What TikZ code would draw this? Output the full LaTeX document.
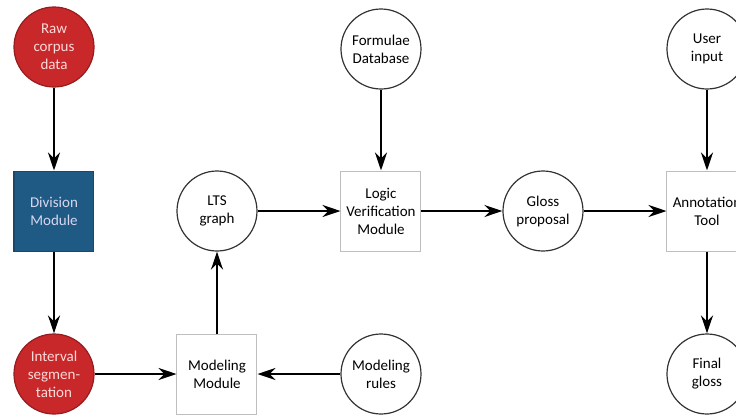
\documentclass[tikz,border=0pt]{standalone}
\usepackage{fontspec}
\setmainfont{Carlito}
\usetikzlibrary{arrows.meta}
\definecolor{corpusred}{RGB}{200,40,42}
\definecolor{corpusredline}{RGB}{150,28,30}
\definecolor{divblue}{RGB}{31,90,133}
\definecolor{boxgray}{RGB}{190,190,190}
\begin{document}
\begin{tikzpicture}[x=0.5pt,y=-0.5pt,
  font=\fontsize{7.5}{9}\selectfont,
  state/.style={circle,draw=black!80,line width=0.6pt,fill=white,minimum size=40pt,inner sep=0pt,align=center},
  source/.style={state,fill=corpusred,draw=corpusredline,text=red!15},
  module/.style={rectangle,draw=boxgray,line width=0.5pt,fill=white,minimum size=40pt,inner sep=1pt,align=center},
  divbox/.style={module,fill=divblue,draw=divblue!80!black,text=cyan!20!blue!15},
  flow/.style={-{Stealth[length=9pt,width=6pt,inset=3pt]},line width=1.1pt}]
  \useasboundingbox (0,0) rectangle (736,414);
  \node[source] (raw) at (54,47) {Raw\\corpus\\data};
  \node[divbox] (div) at (54,211) {Division\\Module};
  \node[source] (seg) at (54,374) {Interval\\segmen-\\tation};
  \node[state] (lts) at (217,211) {LTS\\graph};
  \node[module] (mod) at (217,374) {Modeling\\Module};
  \node[state] (formulae) at (381,49) {Formulae\\Database};
  \node[module] (logic) at (381,211) {Logic\\Verification\\Module};
  \node[state] (rules) at (381,374) {Modeling\\rules};
  \node[state] (gloss) at (543,211) {Gloss\\proposal};
  \node[state] (user) at (707,49) {User\\input};
  \node[module] (annot) at (707,211) {Annotation\\Tool};
  \node[state] (final) at (707,374) {Final\\gloss};

  \draw[flow] (raw) -- (div);
  \draw[flow] (div) -- (seg);
  \draw[flow] (seg) -- (mod);
  \draw[flow] (rules) -- (mod);
  \draw[flow] (mod) -- (lts);
  \draw[flow] (lts) -- (logic);
  \draw[flow] (formulae) -- (logic);
  \draw[flow] (logic) -- (gloss);
  \draw[flow] (gloss) -- (annot);
  \draw[flow] (user) -- (annot);
  \draw[flow] (annot) -- (final);
\end{tikzpicture}
\end{document}
